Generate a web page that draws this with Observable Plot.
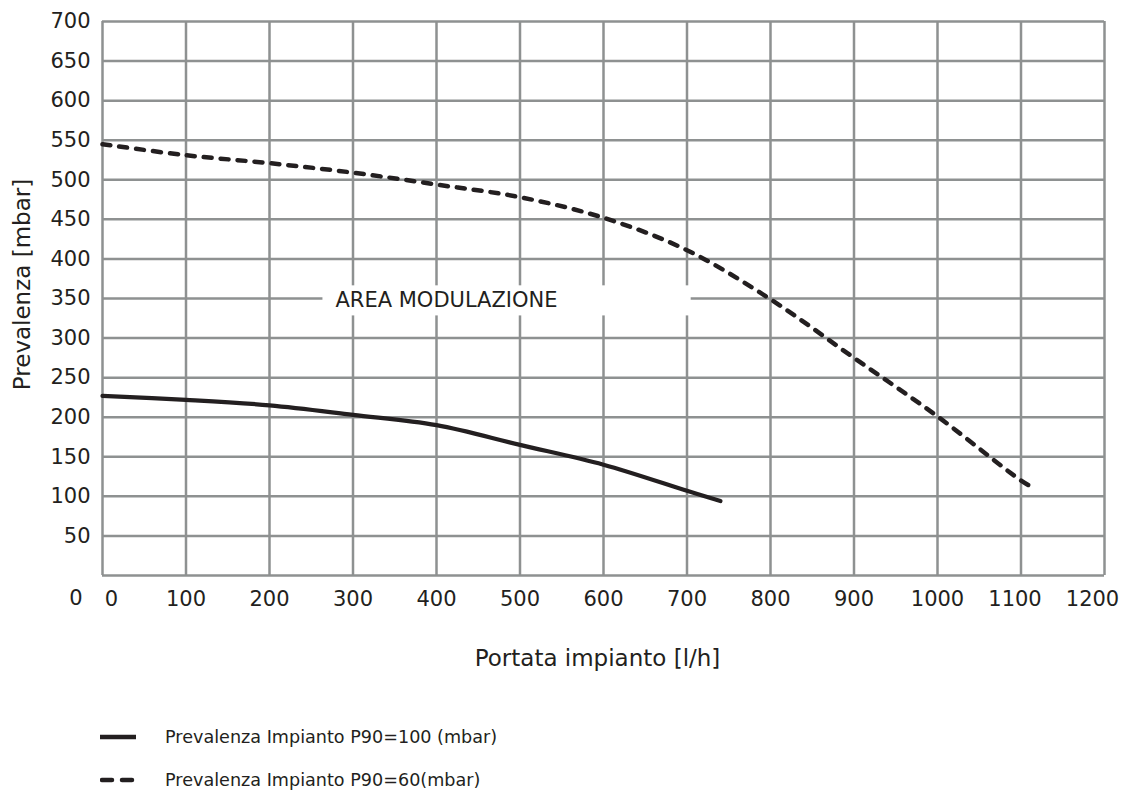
<!DOCTYPE html>
<html><head><meta charset="utf-8">
<script src="https://cdn.jsdelivr.net/npm/d3@7"></script>
<script src="https://cdn.jsdelivr.net/npm/@observablehq/plot@0.6"></script>
<style>
body{margin:0;background:#fff;font-family:"DejaVu Sans",sans-serif;}
#wrap{position:relative;width:1122px;height:790px;overflow:hidden;}
.leg{position:absolute;left:100px;height:24px;display:flex;align-items:center;font-size:17.6px;color:#231f20;white-space:nowrap;}
.leg svg{margin-right:29px;display:block;}
</style></head><body>
<div id="wrap"><div id="chart"></div>
<div class="leg" id="leg1" style="top:725px"></div>
<div class="leg" id="leg2" style="top:768px"></div>
</div>
<script>
// Data
const flowSolid = [0, 100, 200, 300, 400, 500, 600, 700, 740];
const headSolid = [227, 222, 215, 203, 190, 165, 140, 107, 94];
const flowDashed = [0, 100, 200, 300, 400, 500, 600, 700, 800, 900, 1000, 1100, 1116];
const headDashed = [545, 531, 521, 509, 494, 478, 452, 411, 349, 275, 201, 120, 110];
const xTicks = [0, 100, 200, 300, 400, 500, 600, 700, 800, 900, 1000, 1100, 1200];
const yTicks = [0, 50, 100, 150, 200, 250, 300, 350, 400, 450, 500, 550, 600, 650, 700];
const seriesNames = ["Prevalenza Impianto P90=100 (mbar)", "Prevalenza Impianto P90=60(mbar)"];
const areaLabel = "AREA MODULAZIONE";
const xLabel = "Portata impianto [l/h]";
const yLabel = "Prevalenza [mbar]";

const solid = flowSolid.map((f, i) => ({flow: f, head: headSolid[i]}));
const dashed = flowDashed.map((f, i) => ({flow: f, head: headDashed[i]}));

const ink = "#231f20";
const gridColor = "#8e9191";
const fmt = d => String(d);
const tickFont = 21;

const chart = Plot.plot({
  width: 1122, height: 700,
  marginLeft: 102, marginRight: 18, marginTop: 21, marginBottom: 125,
  style: {fontFamily: '"DejaVu Sans", sans-serif', fontSize: "21px", color: ink, background: "#fff", overflow: "visible"},
  x: {domain: [0, 1200]},
  y: {domain: [0, 700]},
  marks: [
    Plot.gridX({ticks: xTicks, stroke: gridColor, strokeOpacity: 1, strokeWidth: 2.5}),
    Plot.gridY({ticks: yTicks, stroke: gridColor, strokeOpacity: 1, strokeWidth: 2.5}),
    Plot.rect([areaLabel], {x1: () => 264, x2: () => 705, y1: () => 328, y2: () => 366, fill: "white"}),
    Plot.text([areaLabel], {x: () => 279, y: () => 348, text: d => d, textAnchor: "start", fontSize: 21, fill: ink}),
    Plot.line(solid, {x: "flow", y: "head", stroke: ink, strokeWidth: 4.2, curve: "catmull-rom"}),
    Plot.line(dashed, {x: "flow", y: "head", stroke: ink, strokeWidth: 4.5, curve: "catmull-rom", strokeDasharray: "8,9", strokeLinecap: "round"}),
    Plot.axisX({ticks: xTicks.slice(1, -2), tickFormat: fmt, tickSize: 0, tickPadding: 16, fontSize: tickFont, label: null}),
    Plot.axisX({ticks: [xTicks[0]], tickFormat: fmt, tickSize: 0, tickPadding: 16, dx: 9, fontSize: tickFont, label: null}),
    Plot.axisX({ticks: [xTicks[xTicks.length - 2]], tickFormat: fmt, tickSize: 0, tickPadding: 16, dx: -6, fontSize: tickFont, label: null}),
    Plot.axisX({ticks: [xTicks[xTicks.length - 1]], tickFormat: fmt, tickSize: 0, tickPadding: 16, dx: -12, fontSize: tickFont, label: null}),
    Plot.axisY({ticks: yTicks.slice(1), tickFormat: fmt, tickSize: 0, tickPadding: 12, fontSize: tickFont, label: null}),
    Plot.axisY({ticks: [yTicks[0]], tickFormat: fmt, tickSize: 0, tickPadding: 12, dx: -8, dy: 23, fontSize: tickFont, label: null}),
    Plot.text([yLabel], {text: d => d, frameAnchor: "left", textAnchor: "middle", lineAnchor: "middle", dx: -80, dy: -14, rotate: -90, fontSize: 23, fill: ink}),
    Plot.text([xLabel], {text: d => d, frameAnchor: "bottom", textAnchor: "middle", lineAnchor: "middle", dx: -6, dy: 83, fontSize: 23, fill: ink})
  ]
});
document.getElementById("chart").appendChild(chart);

function legendItem(el, name, dash) {
  const s = d3.select(el).append("svg").attr("width", 36).attr("height", 10);
  s.append("line").attr("x1", dash ? 2 : 0).attr("x2", dash ? 34 : 36).attr("y1", 5).attr("y2", 5)
    .attr("stroke", ink).attr("stroke-width", 4.5)
    .attr("stroke-linecap", "round")
    .attr("stroke-dasharray", dash ? "10,10" : null);
  d3.select(el).append("span").text(name);
}
legendItem(document.getElementById("leg1"), seriesNames[0], false);
legendItem(document.getElementById("leg2"), seriesNames[1], true);
</script>
</body></html>
